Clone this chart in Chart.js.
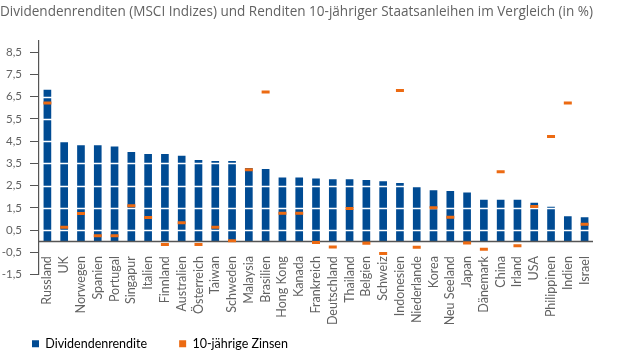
<!DOCTYPE html>
<html>
<head>
<meta charset="utf-8">
<script src="https://cdn.jsdelivr.net/npm/chart.js@4"></script>
<style>
  body { margin: 0; background: #fff; }
  #wrap { width: 640px; height: 360px; position: relative; }
</style>
</head>
<body>
<div id="wrap"><canvas id="chart"></canvas></div>
<script>
// Länder (x-Achse)
const categories = ["Russland", "UK", "Norwegen", "Spanien", "Portugal", "Singapur", "Italien", "Finnland",
  "Australien", "Österreich", "Taiwan", "Schweden", "Malaysia", "Brasilien", "Hong Kong", "Kanada",
  "Frankreich", "Deutschland", "Thailand", "Belgien", "Schweiz", "Indonesien", "Niederlande", "Korea",
  "Neu Seeland", "Japan", "Dänemark", "China", "Irland", "USA", "Philippinen", "Indien", "Israel"];

// Dividendenrendite (MSCI Indizes), in %
const dividendYield = [6.80, 4.44, 4.30, 4.30, 4.24, 4.00, 3.90, 3.90,
  3.83, 3.64, 3.59, 3.59, 3.27, 3.23, 2.85, 2.85,
  2.80, 2.77, 2.77, 2.73, 2.68, 2.60, 2.42, 2.27,
  2.24, 2.17, 1.85, 1.85, 1.85, 1.71, 1.53, 1.10, 1.06];

// Rendite 10-jähriger Staatsanleihen, in %
const bondYield = [6.21, 0.62, 1.24, 0.24, 0.24, 1.59, 1.06, -0.15,
  0.83, -0.15, 0.62, 0.02, 3.21, 6.71, 1.26, 1.26,
  -0.06, -0.26, 1.47, -0.09, -0.56, 6.77, -0.27, 1.50,
  1.08, -0.08, -0.36, 3.12, -0.21, 1.56, 4.71, 6.21, 0.76];

// y-Achse
const yTicks = [8.5, 7.5, 6.5, 5.5, 4.5, 3.5, 2.5, 1.5, 0.5, -0.5, -1.5];
const yTickLabels = ["8,5", "7,5", "6,5", "5,5", "4,5", "3,5", "2,5", "1,5", "0,5", "-0,5", "-1,5"];

const seriesNames = ["Dividendenrendite", "10-jährige Zinsen"];
const blue = "#004b93";
const orange = "#ec6a12";
const textGrey = "#626262";
const labelFont = "12.5px Lato";

// weiße Linien über den Balken + Nulllinie
const overlayLines = {
  id: "overlayLines",
  afterDatasetDraw(chart, args) {
    if (args.index !== 0) return;
    const { ctx, chartArea, scales: { y } } = chart;
    ctx.save();
    ctx.strokeStyle = "#ffffff";
    ctx.lineWidth = 1.5;
    yTicks.filter(v => v > 0).forEach(v => {
      const py = Math.round(y.getPixelForValue(v)) + 0.5;
      ctx.beginPath();
      ctx.moveTo(chartArea.left + 1, py);
      ctx.lineTo(chartArea.right, py);
      ctx.stroke();
    });
    const zy = Math.round(y.getPixelForValue(0)) + 0.5;
    ctx.strokeStyle = "#555555";
    ctx.lineWidth = 1.3;
    ctx.beginPath();
    ctx.moveTo(chartArea.left, zy);
    ctx.lineTo(chartArea.right, zy);
    ctx.stroke();
    ctx.restore();
  }
};

// Länderbeschriftung direkt unter der Nulllinie (senkrecht)
const countryLabels = {
  id: "countryLabels",
  afterDraw(chart) {
    const { ctx, scales: { x, y } } = chart;
    const top = y.getPixelForValue(0) + 15;
    ctx.save();
    ctx.font = labelFont;
    ctx.fillStyle = textGrey;
    ctx.textAlign = "right";
    ctx.textBaseline = "middle";
    categories.forEach((name, i) => {
      ctx.save();
      ctx.translate(x.getPixelForTick(i), top);
      ctx.rotate(-Math.PI / 2);
      ctx.fillText(name, 0, 0);
      ctx.restore();
    });
    ctx.restore();
  }
};

new Chart(document.getElementById("chart"), {
  type: "bar",
  data: {
    labels: categories,
    datasets: [{
      label: seriesNames[0],
      data: dividendYield,
      backgroundColor: blue,
      barThickness: 7,
      order: 1
    }, {
      type: "line",
      label: seriesNames[1],
      data: bondYield,
      showLine: false,
      pointStyle: "line",
      pointRadius: 4,
      pointBorderWidth: 3,
      borderColor: orange,
      backgroundColor: orange,
      order: 0
    }]
  },
  options: {
    responsive: true,
    maintainAspectRatio: false,
    animation: false,
    layout: { padding: { left: 0, right: 47, top: 0, bottom: 0 } },
    plugins: {
      title: {
        display: true,
        text: "Dividendenrenditen (MSCI Indizes) und Renditen 10-jähriger Staatsanleihen im Vergleich (in %)",
        align: "start",
        color: textGrey,
        font: { family: "Open Sans", size: 14.2, weight: "normal" },
        padding: { top: 3, bottom: 21 }
      },
      legend: {
        position: "bottom",
        align: "start",
        labels: {
          boxWidth: 7,
          boxHeight: 7,
          padding: 32,
          color: textGrey,
          font: { family: "Lato", size: 12.5 },
          generateLabels: chart => chart.data.datasets.map((ds, i) => ({
            text: ds.label,
            fillStyle: i === 0 ? blue : orange,
            strokeStyle: i === 0 ? blue : orange,
            lineWidth: 0,
            hidden: false,
            datasetIndex: i
          }))
        }
      },
      tooltip: { enabled: false }
    },
    scales: {
      x: {
        grid: { display: false, drawTicks: false },
        border: { display: false },
        ticks: { display: false },
        afterFit: scale => { scale.height = 31; }
      },
      y: {
        min: -1.5,
        max: 9,
        afterBuildTicks: scale => { scale.ticks = yTicks.map(v => ({ value: v })); },
        afterFit: scale => { scale.width = 39; },
        grid: { drawOnChartArea: false, drawTicks: true, tickLength: 9, color: "#555555" },
        border: { display: true, color: "#555555", width: 1.2 },
        ticks: {
          padding: 8,
          color: textGrey,
          font: { family: "Lato", size: 11.5 },
          callback: (value) => yTickLabels[yTicks.indexOf(value)]
        }
      }
    }
  },
  plugins: [overlayLines, countryLabels]
});
</script>
</body>
</html>
